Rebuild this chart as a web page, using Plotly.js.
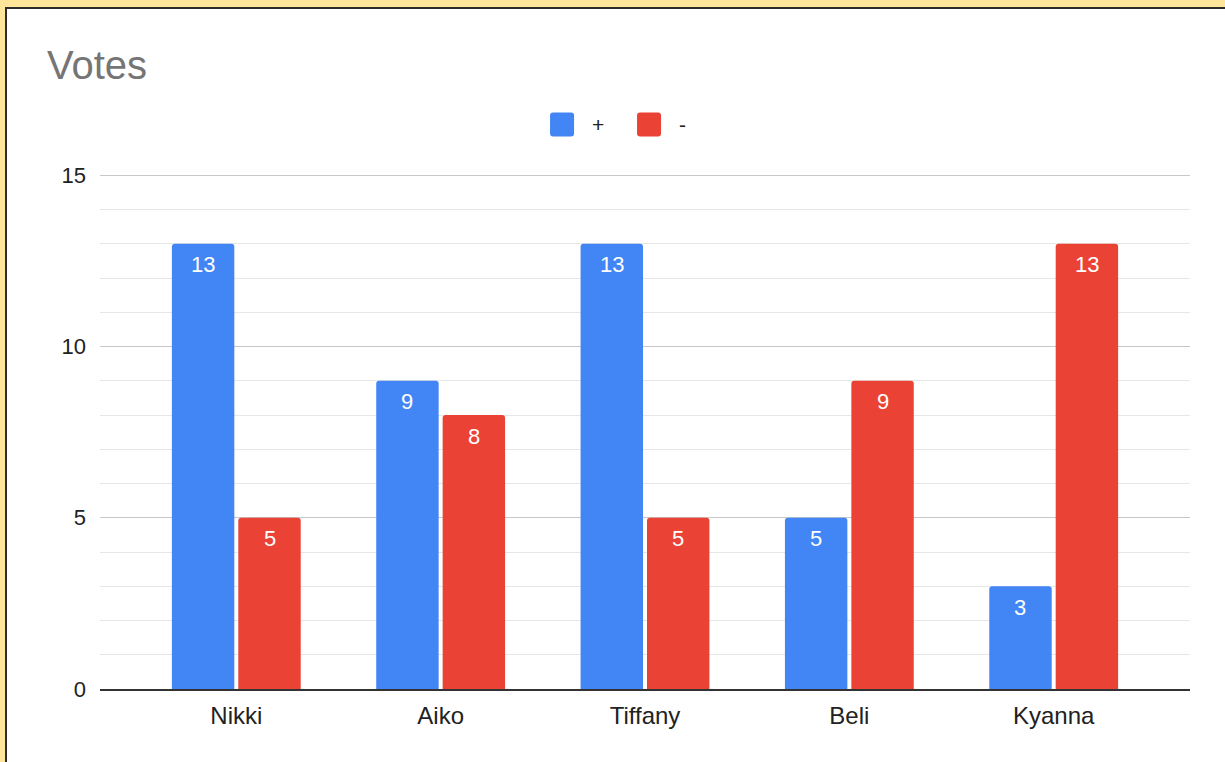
<!DOCTYPE html>
<html>
<head>
<meta charset="utf-8">
<script src="https://cdn.plot.ly/plotly-3.0.1.min.js"></script>
<style>
  html, body { margin: 0; padding: 0; background: #ffe599; width: 1225px; height: 762px; overflow: hidden; }
  #frame { position: absolute; left: 5px; top: 7px; width: 1220px; height: 755px; border-left: 2px solid #2b2b2b; border-top: 2px solid #2b2b2b; background: #ffffff; }
  #chart { width: 1218px; height: 753px; }
</style>
</head>
<body>
<div id="frame"><div id="chart"></div></div>
<script>
const categories = ["Nikki", "Aiko", "Tiffany", "Beli", "Kyanna"];
const plusVotes = [13, 9, 13, 5, 3];
const minusVotes = [5, 8, 5, 9, 13];
const seriesNames = ["+", "-"];
const yTicks = [0, 5, 10, 15];

const FONT = '"Liberation Sans", Arial, sans-serif';
const BLUE = '#4285f4';
const RED = '#ea4335';

const W = 1218, H = 753;
const M = { l: 93, r: 35, t: 165, b: 73 };
const XRANGE = [-0.667, 4.667];
const BARGAP = 0.35;

function barTrace(name, values, color) {
  return {
    type: 'bar',
    name: name,
    x: categories,
    y: values,
    marker: { color: color },
    textposition: 'none',
    hoverinfo: 'x+y+name',
    showlegend: false
  };
}

const data = [
  barTrace(seriesNames[0], plusVotes, BLUE),
  barTrace(seriesNames[1], minusVotes, RED)
];

// bar value labels, placed on the bars through the axes
const catPx = (W - M.l - M.r) / (XRANGE[1] - XRANGE[0]);
const barOffset = catPx * (1 - BARGAP) / 4;
const valueLabels = [];
[[plusVotes, -barOffset], [minusVotes, barOffset]].forEach(([vals, dx]) => {
  vals.forEach((v, i) => {
    valueLabels.push({
      xref: 'x', yref: 'y', x: categories[i], y: v,
      text: String(v), showarrow: false,
      xanchor: 'center', yanchor: 'middle',
      xshift: dx, yshift: -21,
      font: { family: FONT, size: 22, color: '#ffffff' }
    });
  });
});

function roundSquare(cx, cy, color) {
  const h = 12, r = 3;
  const path = `M${-h + r},${-h} L${h - r},${-h} Q${h},${-h} ${h},${-h + r} L${h},${h - r} Q${h},${h} ${h - r},${h} L${-h + r},${h} Q${-h},${h} ${-h},${h - r} L${-h},${-h + r} Q${-h},${-h} ${-h + r},${-h} Z`;
  return {
    type: 'path', xref: 'paper', yref: 'paper',
    xsizemode: 'pixel', ysizemode: 'pixel',
    xanchor: cx, yanchor: cy,
    path: path,
    fillcolor: color, line: { width: 0 }
  };
}

const layout = {
  width: W,
  height: H,
  margin: M,
  paper_bgcolor: '#ffffff',
  plot_bgcolor: '#ffffff',
  font: { family: FONT, color: '#222222' },
  title: {
    text: 'Votes',
    font: { family: FONT, size: 40, color: '#757575' },
    xref: 'container', yref: 'container',
    x: 0.0328, xanchor: 'left',
    y: 0.9256, yanchor: 'middle'
  },
  showlegend: false,
  barmode: 'group',
  bargap: BARGAP,
  bargroupgap: 0.06,
  barcornerradius: 3,
  xaxis: {
    type: 'category',
    range: XRANGE,
    showgrid: false,
    showline: true,
    linecolor: '#333333',
    linewidth: 2,
    ticks: '',
    ticklabelstandoff: 4,
    tickfont: { family: FONT, size: 24, color: '#222222' },
    fixedrange: true
  },
  yaxis: {
    range: [0, 15.04],
    tickvals: yTicks,
    ticktext: yTicks.map(String),
    showgrid: true,
    gridcolor: '#c8c8c8',
    gridwidth: 1,
    zeroline: false,
    showline: false,
    ticks: '',
    ticklabelstandoff: 13,
    tickfont: { family: FONT, size: 22, color: '#222222' },
    minor: { dtick: 1, showgrid: true, gridcolor: '#e6e6e6', gridwidth: 1 },
    fixedrange: true
  },
  shapes: [
    roundSquare(0.4239, 1.0961, BLUE),
    roundSquare(0.5037, 1.0961, RED)
  ],
  annotations: valueLabels.concat([
    { xref: 'paper', yref: 'paper', x: 0.4495, y: 1.0961, xanchor: 'left', yanchor: 'middle',
      text: seriesNames[0], showarrow: false, font: { family: FONT, size: 21, color: '#222222' } },
    { xref: 'paper', yref: 'paper', x: 0.5293, y: 1.0961, xanchor: 'left', yanchor: 'middle',
      text: seriesNames[1], showarrow: false, font: { family: FONT, size: 21, color: '#222222' } }
  ])
};

Plotly.newPlot('chart', data, layout, { displayModeBar: false });
</script>
</body>
</html>
